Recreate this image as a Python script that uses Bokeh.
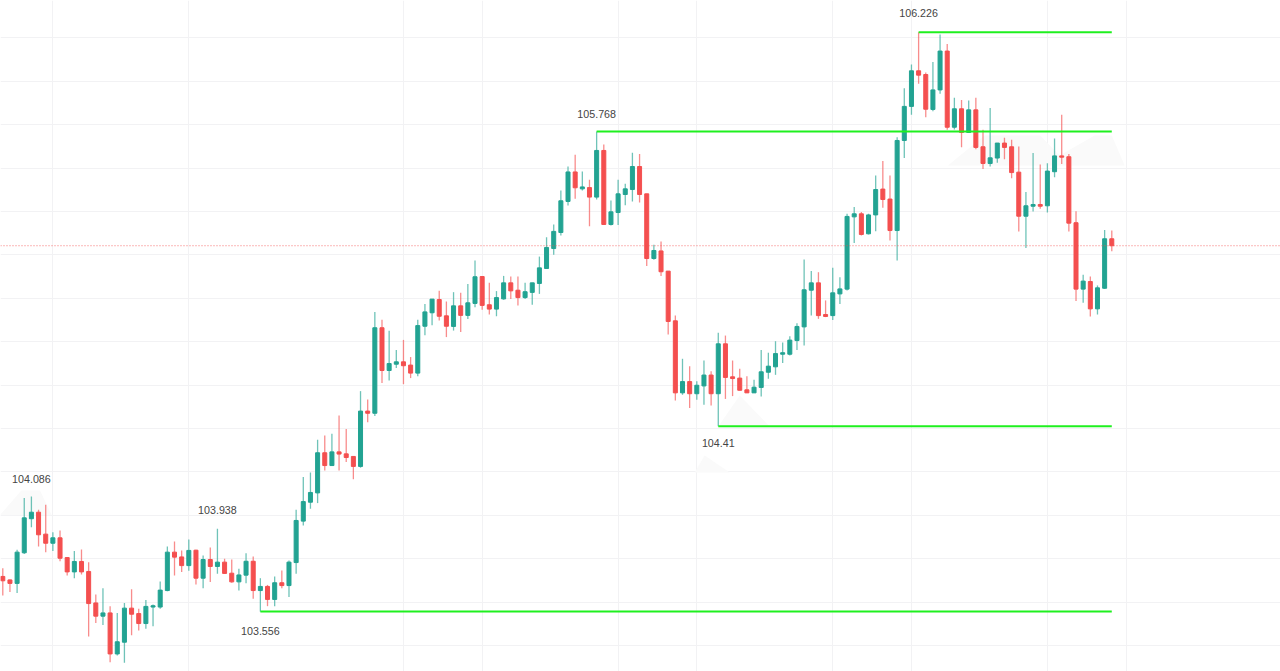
from bokeh.core.properties import value
from bokeh.embed import file_html
from bokeh.models import ColumnDataSource, FixedTicker, Span
from bokeh.plotting import figure
from bokeh.resources import INLINE

# candle values, one list per field
opens = [103.718, 103.702, 103.686, 103.827, 103.984, 104.014, 103.913, 103.871, 103.896, 103.805,
         103.739, 103.787, 103.741, 103.596, 103.535, 103.550, 103.361, 103.415, 103.572, 103.547,
         103.501, 103.577, 103.577, 103.653, 103.830, 103.808, 103.768, 103.839, 103.710, 103.796,
         103.764, 103.784, 103.733, 103.693, 103.724, 103.788, 103.653, 103.672, 103.612, 103.689,
         103.676, 103.782, 103.973, 104.060, 104.103, 104.288, 104.229, 104.292, 104.283, 104.271,
         104.225, 104.480, 104.470, 104.864, 104.667, 104.696, 104.707, 104.692, 104.655, 104.871,
         104.933, 104.994, 104.919, 104.870, 104.965, 104.921, 104.976, 105.100, 104.970, 104.950,
         104.997, 105.071, 105.037, 105.003, 105.027, 105.068, 105.137, 105.229, 105.303, 105.446,
         105.582, 105.504, 105.510, 105.466, 105.681, 105.340, 105.395, 105.478, 105.501, 105.607,
         105.481, 105.183, 105.218, 105.125, 104.896, 104.564, 104.616, 104.560, 104.596, 104.646,
         104.560, 104.790, 104.638, 104.632, 104.578, 104.564, 104.589, 104.659, 104.684, 104.742,
         104.742, 104.805, 104.868, 105.037, 105.071, 104.925, 104.920, 105.020, 105.042, 105.375,
         105.389, 105.297, 105.384, 105.503, 105.457, 105.312, 105.727, 105.884, 106.048, 106.031,
         105.870, 105.960, 106.139, 105.788, 105.873, 105.764, 105.868, 105.698, 105.621, 105.646,
         105.715, 105.698, 105.581, 105.378, 105.424, 105.432, 105.426, 105.583, 105.656, 105.652,
         105.348, 105.042, 105.077, 104.951, 105.046, 105.274]
highs = [103.756, 103.704, 103.841, 104.080, 104.086, 104.025, 104.048, 103.922, 103.930, 103.807,
         103.835, 103.842, 103.784, 103.635, 103.664, 103.581, 103.550, 103.596, 103.659, 103.569,
         103.610, 103.589, 103.695, 103.856, 103.879, 103.838, 103.888, 103.841, 103.815, 103.851,
         103.938, 103.799, 103.796, 103.753, 103.825, 103.810, 103.710, 103.679, 103.718, 103.745,
         103.792, 104.025, 104.176, 104.197, 104.348, 104.368, 104.375, 104.460, 104.397, 104.271,
         104.572, 104.533, 104.937, 104.901, 104.850, 104.762, 104.808, 104.729, 104.901, 104.974,
         104.997, 105.034, 104.985, 105.028, 105.025, 105.066, 105.174, 105.100, 105.071, 105.033,
         105.103, 105.100, 105.100, 105.071, 105.071, 105.192, 105.281, 105.340, 105.496, 105.607,
         105.661, 105.584, 105.546, 105.768, 105.708, 105.450, 105.546, 105.527, 105.670, 105.665,
         105.481, 105.246, 105.261, 105.125, 104.920, 104.721, 104.687, 104.618, 104.713, 104.664,
         104.841, 104.828, 104.713, 104.675, 104.641, 104.624, 104.762, 104.749, 104.802, 104.796,
         104.825, 104.885, 105.179, 105.125, 105.120, 104.990, 105.140, 105.097, 105.389, 105.420,
         105.397, 105.389, 105.566, 105.632, 105.566, 105.742, 105.968, 106.077, 106.226, 106.040,
         106.089, 106.215, 106.172, 105.924, 105.914, 105.911, 105.924, 105.776, 105.877, 105.715,
         105.739, 105.730, 105.699, 105.490, 105.669, 105.616, 105.622, 105.736, 105.845, 105.665,
         105.401, 105.108, 105.100, 105.059, 105.315, 105.312]
lows = [103.630, 103.646, 103.642, 103.822, 103.945, 103.856, 103.830, 103.835, 103.788, 103.722,
        103.710, 103.727, 103.441, 103.503, 103.494, 103.323, 103.354, 103.320, 103.447, 103.469,
        103.477, 103.489, 103.569, 103.650, 103.722, 103.738, 103.744, 103.681, 103.664, 103.692,
        103.730, 103.730, 103.689, 103.653, 103.687, 103.615, 103.556, 103.581, 103.581, 103.664,
        103.623, 103.730, 103.953, 104.030, 104.056, 104.206, 104.229, 104.206, 104.245, 104.166,
        104.219, 104.429, 104.457, 104.609, 104.621, 104.679, 104.604, 104.632, 104.641, 104.830,
        104.876, 104.897, 104.821, 104.851, 104.845, 104.904, 104.959, 104.947, 104.925, 104.917,
        104.993, 104.996, 104.967, 104.997, 104.970, 105.020, 105.135, 105.200, 105.289, 105.427,
        105.458, 105.496, 105.332, 105.455, 105.340, 105.335, 105.338, 105.429, 105.446, 105.441,
        105.148, 105.177, 105.102, 104.833, 104.529, 104.555, 104.494, 104.532, 104.509, 104.506,
        104.410, 104.536, 104.549, 104.575, 104.563, 104.563, 104.547, 104.629, 104.647, 104.702,
        104.736, 104.762, 104.782, 104.920, 104.905, 104.913, 104.900, 104.974, 105.036, 105.255,
        105.289, 105.294, 105.309, 105.417, 105.266, 105.174, 105.646, 105.845, 105.988, 105.834,
        105.862, 105.942, 105.776, 105.778, 105.696, 105.761, 105.687, 105.595, 105.607, 105.624,
        105.641, 105.553, 105.308, 105.232, 105.400, 105.412, 105.395, 105.558, 105.619, 105.308,
        104.987, 104.979, 104.916, 104.925, 105.043, 105.217]
closes = [103.698, 103.686, 103.830, 103.988, 104.014, 103.910, 103.871, 103.896, 103.802, 103.739,
          103.787, 103.739, 103.593, 103.535, 103.550, 103.361, 103.417, 103.572, 103.544, 103.501,
          103.580, 103.583, 103.655, 103.830, 103.807, 103.768, 103.838, 103.710, 103.796, 103.764,
          103.784, 103.732, 103.693, 103.725, 103.788, 103.653, 103.672, 103.612, 103.689, 103.676,
          103.784, 103.976, 104.063, 104.105, 104.288, 104.229, 104.292, 104.282, 104.266, 104.225,
          104.480, 104.470, 104.864, 104.667, 104.699, 104.707, 104.689, 104.655, 104.874, 104.937,
          104.996, 104.917, 104.871, 104.965, 104.921, 104.979, 105.099, 104.967, 104.950, 105.003,
          105.071, 105.034, 105.003, 105.030, 105.071, 105.140, 105.234, 105.308, 105.449, 105.582,
          105.509, 105.513, 105.466, 105.681, 105.340, 105.398, 105.481, 105.504, 105.607, 105.478,
          105.183, 105.220, 105.122, 104.893, 104.564, 104.616, 104.560, 104.599, 104.646, 104.560,
          104.790, 104.635, 104.630, 104.576, 104.564, 104.590, 104.661, 104.687, 104.745, 104.749,
          104.807, 104.870, 105.039, 105.071, 104.920, 104.916, 105.025, 105.043, 105.377, 105.389,
          105.294, 105.384, 105.501, 105.455, 105.312, 105.727, 105.884, 106.048, 106.028, 105.871,
          105.960, 106.139, 105.788, 105.873, 105.764, 105.868, 105.695, 105.621, 105.647, 105.715,
          105.695, 105.579, 105.378, 105.426, 105.432, 105.424, 105.586, 105.656, 105.650, 105.346,
          105.042, 105.079, 104.951, 105.048, 105.274, 105.242]

# swing points: bar index, level, label
pivot_bars = [4, 30, 36, 83, 100, 128]
pivot_levels = [104.086, 103.938, 103.556, 105.768, 104.41, 106.226]
pivot_labels = ["104.086", "103.938", "103.556", "105.768", "104.41", "106.226"]
pivot_offsets = [-18, -19, 19, -18, 17, -19]

# levels that stay drawn up to the last bar
level_bars = [36, 83, 100, 128]
level_prices = [103.556, 105.768, 104.41, 106.226]
last_bar = 155

# faint shapes behind the candles
shade_xs = [[-0.42, 2.6, 5.2, 6.85],
            [96.7, 98.1, 101.6],
            [100, 103, 107.2],
            [132.1, 137.2, 145, 147.7, 152.6, 155, 156.8]]
shade_ys = [[104.0, 104.114, 104.114, 104.0],
            [104.197, 104.275, 104.197],
            [104.409, 104.552, 104.409],
            [105.612, 105.75, 105.75, 105.658, 105.75, 105.75, 105.612]]

price_ticks = [103.4, 103.6, 103.8, 104.0, 104.2, 104.4, 104.6, 104.8, 105.0, 105.2, 105.4, 105.6, 105.8, 106.0, 106.2]
time_ticks = [7, 26, 56, 67, 86, 97, 116, 127, 146, 157]

UP = "#22a392"
DOWN = "#f44f4f"

colours = [UP if c >= o else DOWN for o, c in zip(opens, closes)]
candles = ColumnDataSource(data=dict(
    bar=list(range(len(opens))),
    top=[max(o, c) for o, c in zip(opens, closes)],
    bottom=[min(o, c) for o, c in zip(opens, closes)],
    high=highs,
    low=lows,
    color=colours,
))

p = figure(width=1280, height=671, x_range=(-0.32, 178.58), y_range=(103.28, 106.372),
           toolbar_location=None, tools="", output_backend="svg", min_border=0)
p.outline_line_color = None
p.axis.visible = False
p.background_fill_color = "white"

p.xgrid.ticker = FixedTicker(ticks=time_ticks)
p.ygrid.ticker = FixedTicker(ticks=price_ticks)
p.grid.grid_line_color = "#f2f2f4"
p.grid.grid_line_width = 1

p.patches(shade_xs, shade_ys, fill_color="#fafafa", line_color=None)

p.segment(x0="bar", y0="low", x1="bar", y1="high", line_color="color", line_width=1.3, line_alpha=0.65, source=candles)
p.vbar(x="bar", top="top", bottom="bottom", width=0.56, fill_color="color", line_color="color", line_width=1, source=candles)

for bar, price in zip(level_bars, level_prices):
    p.line([bar, last_bar], [price, price], line_color="#1ff01f", line_width=2)

last_price = Span(location=closes[-1], dimension="width", line_color=DOWN, line_width=1, line_dash="1 2", line_alpha=0.8)
p.add_layout(last_price)

p.text(x=pivot_bars, y=pivot_levels, text=pivot_labels, y_offset=pivot_offsets, text_align="center",
       text_baseline="middle", text_font=value("Liberation Sans"), text_font_size="10.7px", text_color="#444444")

open("out.html", "w").write(file_html(p, INLINE))
